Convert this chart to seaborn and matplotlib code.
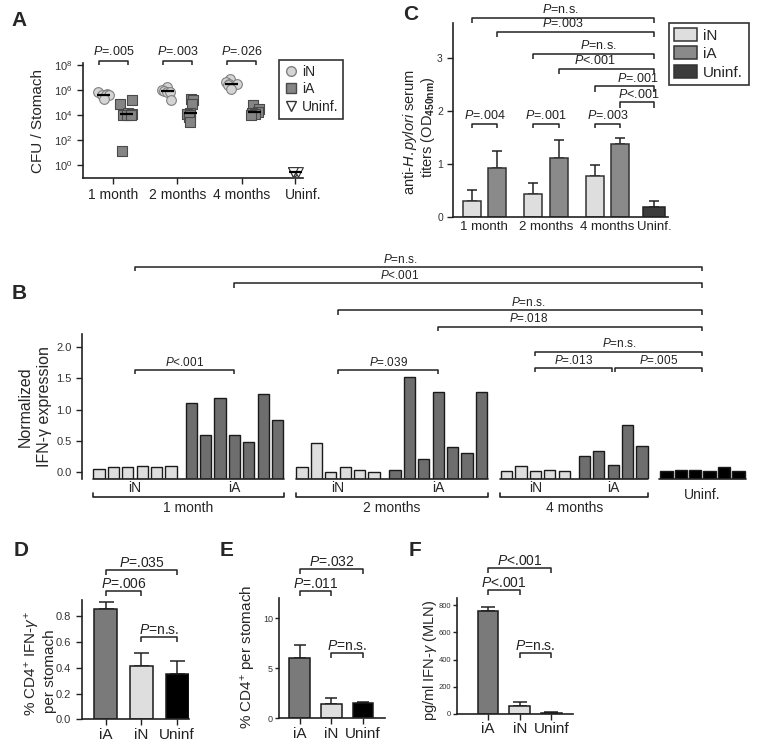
import numpy as np
import pandas as pd
import matplotlib
matplotlib.use("Agg")
import matplotlib.pyplot as plt
import matplotlib.transforms as mtrans
from matplotlib.lines import Line2D
from matplotlib.patches import Patch
import seaborn as sns

# ---- A: CFU per stomach, single mice ----
a_times = ["1 month", "2 months", "4 months", "Uninf."]
a_1m_iN = [7e5, 5.5e5, 4.5e5, 4.5e5, 4e5, 2e5]
a_1m_iA = [1.8e5, 8e4, 1.4e4, 1.2e4, 1.1e4, 1e4, 1e4, 14]
a_2m_iN = [1.8e6, 1e6, 9e5, 8e5, 7e5, 1.6e5]
a_2m_iA = [2.1e5, 1.6e5, 8.5e4, 1.6e4, 1.3e4, 1e4, 7e3, 2.8e3]
a_4m_iN = [7.5e6, 4.5e6, 3.5e6, 3.2e6, 2.8e6, 1.4e6]
a_4m_iA = [7e4, 3e4, 1.8e4, 1.6e4, 1.3e4, 1.1e4]
a_uninf = [0.3, 0.3, 0.3, 0.3]
a_pvals = ["=.005", "=.003", "=.026"]

# ---- B: normalized IFN-g expression, single mice ----
b_1m_iN = [0.06, 0.09, 0.09, 0.10, 0.09, 0.10]
b_1m_iA = [1.10, 0.59, 1.19, 0.60, 0.49, 1.24, 0.84]
b_2m_iN = [0.08, 0.46, 0.01, 0.08, 0.03, 0.01]
b_2m_iA = [0.03, 1.52, 0.22, 1.28, 0.41, 0.30, 1.28]
b_4m_iN = [0.02, 0.10, 0.02, 0.04, 0.02]
b_4m_iA = [0.26, 0.34, 0.12, 0.76, 0.42]
b_uninf = [0.02, 0.03, 0.03, 0.02, 0.08, 0.02]
b_months = ["1 month", "2 months", "4 months"]

# ---- C: serum titers ----
c_times = ["1 month", "2 months", "4 months", "Uninf."]
c_iN_mean = [0.31, 0.44, 0.78]
c_iN_sem = [0.20, 0.21, 0.21]
c_iA_mean = [0.93, 1.11, 1.38]
c_iA_sem = [0.32, 0.35, 0.11]
c_uninf_mean = [0.20]
c_uninf_sem = [0.11]
c_pvals_month = ["=.004", "=.001", "=.003"]

# ---- D, E, F ----
def_groups = ["iA", "iN", "Uninf"]
d_mean = [0.853, 0.415, 0.353]
d_sem = [0.057, 0.101, 0.099]
e_mean = [6.0, 1.4, 1.5]
e_sem = [1.33, 0.67, 0.17]
f_mean = [755, 59, 10]
f_sem = [30, 32, 7]

# ---------------- style ----------------
sns.set_style("ticks")
plt.rcParams["font.family"] = ["Liberation Sans", "DejaVu Sans"]
plt.rcParams["mathtext.fontset"] = "custom"
plt.rcParams["mathtext.rm"] = "Liberation Sans"
plt.rcParams["mathtext.it"] = "Liberation Sans:italic"
plt.rcParams["mathtext.bf"] = "Liberation Sans:bold"
plt.rcParams["axes.linewidth"] = 1.2
plt.rcParams["axes.edgecolor"] = "#222222"
plt.rcParams["xtick.major.width"] = 1.0
plt.rcParams["ytick.major.width"] = 1.0
plt.rcParams["xtick.major.size"] = 4
plt.rcParams["ytick.major.size"] = 4
plt.rcParams["xtick.color"] = "#222222"
plt.rcParams["ytick.color"] = "#222222"

LIGHT = "#dedede"
MID = "#8a8a8a"
DARK_B = "#6e6e6e"
EDGE = "#222222"

W, H = 762, 755
fig = plt.figure(figsize=(W / 100, H / 100), dpi=100)


def add_ax(l, t, r, b):
    return fig.add_axes([l / W, 1 - b / H, (r - l) / W, (b - t) / H])


def ftext(x, y, s, **kw):
    fig.text(x / W, 1 - y / H, s, ha="center", va="center", **kw)


def P(s):
    return r"$\mathit{P}$" + s


def bracket(ax, x1, x2, y, ylo, label, tx=None, fs=9, pad=1.0):
    ax.plot([x1, x1, x2, x2], [ylo, y, y, ylo], color=EDGE, lw=1.1,
            clip_on=False, solid_capstyle="butt")
    ax.annotate(P(label), xy=((x1 + x2) / 2 if tx is None else tx, y),
                xytext=(0, pad), textcoords="offset points", ha="center",
                va="bottom", fontsize=fs, color="#222222", annotation_clip=False)


def style_ticks(ax, size=8):
    ax.tick_params(axis="y", labelsize=size, labelcolor="#333333")
    sns.despine(ax=ax)


def shift_last_xlabel(ax, dx_px):
    lab = ax.get_xticklabels()[-1]
    lab.set_transform(lab.get_transform() +
                      mtrans.ScaledTranslation(dx_px / 100, 0, fig.dpi_scale_trans))


# ================= Panel A =================
axA = add_ax(82.7, 63, 303, 177.7)
a_pos = {"1 month": 0, "2 months": 1, "4 months": 2, "Uninf.": 2.84}
a_off = {"iN": -0.16, "iA": 0.2, "Uninf.": 0.0}
a_sets = [("1 month", "iN", a_1m_iN), ("1 month", "iA", a_1m_iA),
          ("2 months", "iN", a_2m_iN), ("2 months", "iA", a_2m_iA),
          ("4 months", "iN", a_4m_iN), ("4 months", "iA", a_4m_iA),
          ("Uninf.", "Uninf.", a_uninf)]
df_a = pd.DataFrame([{"time": t, "group": g, "cfu": v}
                     for t, g, vals in a_sets for v in vals])
df_a["x"] = df_a["time"].map(a_pos) + df_a["group"].map(a_off)

a_style = {"iN": dict(marker="o", color="#d4d4d4", edgecolor="#808080", size=7),
           "iA": dict(marker="s", color="#858585", edgecolor="#4a4a4a", size=7),
           "Uninf.": dict(marker="v", color="white", edgecolor="#333333", size=7)}
np.random.seed(7)
for g, st in a_style.items():
    sub = df_a[df_a["group"] == g]
    sns.stripplot(data=sub, x="x", y="cfu", native_scale=True, orient="x",
                  jitter=0.1 if g != "Uninf." else 0.12, linewidth=0.8,
                  log_scale=(False, True), ax=axA, zorder=3, **st)
for (t, g), sub in df_a.groupby(["time", "group"]):
    xc = a_pos[t] + a_off[g]
    axA.hlines(np.median(sub["cfu"]), xc - 0.1, xc + 0.1, color="black",
               lw=1.6, zorder=5)
axA.set_ylim(10 ** -1.02, 10 ** 8.2)
axA.set_xlim(-0.48, 2.96)
axA.minorticks_off()
axA.set_yticks([1e0, 1e2, 1e4, 1e6, 1e8])
axA.set_yticklabels([r"$10^{%d}$" % k for k in (0, 2, 4, 6, 8)])
axA.set_xticks([a_pos[t] for t in a_times])
axA.set_xticklabels(a_times, fontsize=10)
shift_last_xlabel(axA, 8)
axA.set_xlabel("")
axA.set_ylabel("")
style_ticks(axA, 8)
for t, p in zip(a_times[:3], a_pvals):
    bracket(axA, a_pos[t] - 0.22, a_pos[t] + 0.23, 10 ** 8.4, 10 ** 8.0, p,
            fs=9, pad=1.5)
ftext(38, 121, "CFU / Stomach", fontsize=11, rotation=90)
a_handles = [Line2D([], [], ls="", marker="o", ms=7, mfc="#d4d4d4", mec="#808080"),
             Line2D([], [], ls="", marker="s", ms=7, mfc="#858585", mec="#4a4a4a"),
             Line2D([], [], ls="", marker="v", ms=7, mfc="white", mec="#333333")]
legA = fig.legend(a_handles, ["iN", "iA", "Uninf."], loc="upper left",
                  bbox_to_anchor=(279 / W, 1 - 60 / H), fontsize=10,
                  frameon=True, fancybox=False, edgecolor="black",
                  handletextpad=0.3, borderpad=0.35, labelspacing=0.25,
                  handlelength=1.0, borderaxespad=0)
legA.get_frame().set_linewidth(1.2)

# ================= Panel C =================
axC = add_ax(453.3, 23, 668, 217.3)
c_month_pos = np.arange(3)
c_uninf_pos = [2.755]
dodge = 0.208
bw = 0.29
cN = c_month_pos - dodge
cA = c_month_pos + dodge
ekw = dict(fmt="none", ecolor=EDGE, elinewidth=1.1, capthick=1.1, capsize=3.6, zorder=1)
axC.bar(cN, c_iN_mean, width=bw, color=LIGHT, edgecolor="#333333", lw=1.1, zorder=2)
axC.bar(cA, c_iA_mean, width=bw, color=MID, edgecolor="#333333", lw=1.1, zorder=2)
axC.bar(c_uninf_pos, c_uninf_mean, width=0.36, color="#3c3c3c", edgecolor="#222222",
        lw=1.1, zorder=2)
axC.errorbar(cN, c_iN_mean, yerr=[np.zeros(3), c_iN_sem], **ekw)
axC.errorbar(cA, c_iA_mean, yerr=[np.zeros(3), c_iA_sem], **ekw)
axC.errorbar(c_uninf_pos, c_uninf_mean, yerr=[[0], c_uninf_sem], **ekw)
axC.set_ylim(0, 3.65)
axC.set_xlim(-0.506, 2.985)
axC.set_yticks([0, 1, 2, 3])
axC.set_xticks(list(c_month_pos) + c_uninf_pos)
axC.set_xticklabels(c_times, fontsize=9.5)
shift_last_xlabel(axC, 7)
axC.tick_params(axis="x", length=0, pad=3)
style_ticks(axC, 7.5)
for i, p in enumerate(c_pvals_month):
    bracket(axC, cN[i], cA[i], 1.76, 1.67, p)
cU = c_uninf_pos[0]
c_upper = [(cN[0], 3.75, "=n.s.", 1.23), (cA[0], 3.49, "=.003", 1.28),
           (cN[1], 3.07, "=n.s.", 1.85), (cA[1], 2.79, "<.001", 1.80),
           (cN[2], 2.46, "=.001", 2.50), (cA[2], 2.16, "<.001", 2.51)]
for x1, y, p, tx in c_upper:
    bracket(axC, x1, cU, y, y - 0.1, p, tx=tx)
ftext(410, 132, r"anti-$\mathit{H. pylori}$ serum", fontsize=10.5, rotation=90)
ftext(428, 127, r"titers (OD$_{\mathbf{450nm}}$)", fontsize=10.5, rotation=90)
legC = fig.legend([Patch(facecolor=c, edgecolor="#333333", lw=1.1)
                   for c in (LIGHT, MID, "#3c3c3c")],
                  ["iN", "iA", "Uninf."], loc="upper left",
                  bbox_to_anchor=(669 / W, 1 - 22.7 / H), fontsize=11,
                  frameon=True, fancybox=False, edgecolor="black",
                  handletextpad=0.4, borderpad=0.35, labelspacing=0.25,
                  handlelength=1.5, handleheight=0.9, borderaxespad=0)
legC.get_frame().set_linewidth(1.2)

# ================= Panel B =================
axB = add_ax(82, 250, 750, 478.6)
B_BASE = -0.1
b_groups = [(b_1m_iN, LIGHT), (b_1m_iA, DARK_B), (b_2m_iN, LIGHT), (b_2m_iA, DARK_B),
            (b_4m_iN, LIGHT), (b_4m_iA, DARK_B), (b_uninf, "black")]
gaps = [1.4, 1.7, 1.45, 1.75, 1.4, 1.7]
b_xs = []
start = 0.0
for k, (vals, col) in enumerate(b_groups):
    xs = start + np.arange(len(vals))
    b_xs.append(xs)
    width = 0.86 if col == "black" else 0.78
    axB.bar(xs, np.array(vals) - B_BASE, bottom=B_BASE, width=width, color=col,
            edgecolor="#1a1a1a", lw=1.0, zorder=2)
    if k < len(gaps):
        start = xs[-1] + gaps[k]
centers = [xs.mean() for xs in b_xs]
axB.set_ylim(B_BASE, 3.54)
axB.set_xlim(-1.18, 45.2)
axB.set_yticks([0, 0.5, 1.0, 1.5, 2.0])
axB.spines["left"].set_bounds(B_BASE, 2.2)
axB.set_xticks([])
style_ticks(axB, 8)
axB.spines["bottom"].set_visible(False)
# baselines and labels under each month
for m in range(3):
    lo = b_xs[2 * m][0] - 0.45
    hi = b_xs[2 * m + 1][-1] + 0.45
    axB.plot([lo, hi], [B_BASE, B_BASE], color=EDGE, lw=1.2, clip_on=False)
    axB.plot([lo, lo, hi, hi], [-0.33, -0.39, -0.39, -0.33], color=EDGE, lw=1.2,
             clip_on=False)
    axB.text(centers[2 * m], -0.25, "iN", ha="center", va="center", fontsize=10,
             clip_on=False)
    axB.text(centers[2 * m + 1], -0.25, "iA", ha="center", va="center", fontsize=10,
             clip_on=False)
    axB.text((lo + hi) / 2, -0.57, b_months[m], ha="center", va="center",
             fontsize=10, clip_on=False)
lo, hi = b_xs[6][0] - 0.5, b_xs[6][-1] + 0.5
axB.plot([lo, hi], [B_BASE, B_BASE], color=EDGE, lw=1.2, clip_on=False)
axB.text(centers[6], -0.36, "Uninf.", ha="center", va="center", fontsize=10,
         clip_on=False)
c1N, c1A, c2N, c2A, c4N, c4A, cUb = centers
bfs = 8.5
bracket(axB, c1N, c1A, 1.63, 1.56, "<.001", fs=bfs)
bracket(axB, c2N, c2A, 1.63, 1.56, "=.039", fs=bfs)
bracket(axB, c4N, c4A - 0.1, 1.66, 1.59, "=.013", fs=bfs)
bracket(axB, c4A + 0.1, cUb, 1.66, 1.59, "=.005", fs=bfs)
bracket(axB, c4N, cUb, 1.92, 1.85, "=n.s.", fs=bfs)
bracket(axB, c1N, cUb, 3.27, 3.20, "=n.s.", tx=20.9, fs=bfs)
bracket(axB, c1A, cUb, 3.01, 2.94, "<.001", tx=20.9, fs=bfs)
bracket(axB, c2N, cUb, 2.58, 2.51, "=n.s.", tx=29.8, fs=bfs)
bracket(axB, c2A, cUb, 2.32, 2.25, "=.018", tx=29.8, fs=bfs)
ftext(25, 407, "Normalized", fontsize=11.5, rotation=90)
ftext(45, 407, "IFN-γ expression", fontsize=11.5, rotation=90)


# ================= Panels D, E, F =================
def small_bar(ax, means, sems, ylim, yticks, capsize, tsize):
    sns.barplot(x=def_groups, y=means, hue=def_groups, legend=False,
                palette=["#7a7a7a", LIGHT, "black"], width=0.65,
                edgecolor="#1a1a1a", linewidth=1.1, errorbar=None, ax=ax, zorder=2)
    ax.errorbar(np.arange(3), means, yerr=[np.zeros(3), sems], fmt="none",
                ecolor=EDGE, elinewidth=1.1, capthick=1.1, capsize=capsize, zorder=1)
    ax.set_ylim(*ylim)
    ax.set_yticks(yticks)
    ax.tick_params(axis="x", labelsize=11, pad=2)
    style_ticks(ax, tsize)


axD = add_ax(81.7, 600, 189, 719.3)
small_bar(axD, d_mean, d_sem, (0, 0.925), [0, 0.2, 0.4, 0.6, 0.8], 5.4, 8)
axD.set_xlim(-0.67, 2.33)
axD.set_yticklabels(["0.0", "0.2", "0.4", "0.6", "0.8"])
bracket(axD, 0, 2, 1.157, 1.117, "=.035", fs=10, pad=0)
bracket(axD, 0, 1, 0.995, 0.955, "=.006", fs=10, pad=0)
bracket(axD, 1, 2, 0.64, 0.60, "=n.s.", fs=10, pad=0)
ftext(32, 664, r"% CD4$^{+}$ IFN-$\gamma^{+}$", fontsize=11, rotation=90)
ftext(50, 671, "per stomach", fontsize=11, rotation=90)

axE = add_ax(279.3, 598.3, 385, 718.3)
small_bar(axE, e_mean, e_sem, (0, 12), [0, 5, 10], 4.2, 6.5)
axE.tick_params(axis="y", length=3, pad=1.5)
axE.set_xlim(-0.645, 2.69)
bracket(axE, 0, 2, 14.9, 14.4, "=.032", fs=10, pad=0)
bracket(axE, 0, 1, 12.73, 12.23, "=.011", fs=10, pad=0)
bracket(axE, 1, 2, 6.56, 6.06, "=n.s.", fs=10, pad=0)
ftext(249, 657, r"% CD4$^{+}$ per stomach", fontsize=11, rotation=90)

axF = add_ax(456.7, 598, 573.3, 714)
small_bar(axF, f_mean, f_sem, (0, 852), [0, 200, 400, 600, 800], 4.7, 5.5)
axF.tick_params(axis="y", length=3, pad=1)
axF.set_xlim(-0.986, 2.69)
bracket(axF, 0, 2, 1069, 1032, "<.001", fs=10, pad=0)
bracket(axF, 0, 1, 908, 871, "<.001", fs=10, pad=0)
bracket(axF, 1, 2, 448, 411, "=n.s.", fs=10, pad=0)
ftext(430, 660, r"pg/ml IFN-$\gamma$ (MLN)", fontsize=10.5, rotation=90)

# panel letters
for letter, (x, y) in {"A": (19, 21), "B": (19, 294), "C": (411, 14),
                       "D": (21, 551), "E": (227, 550), "F": (415, 550)}.items():
    ftext(x, y, letter, fontsize=15, fontweight="bold")

fig.savefig("out.png", dpi=100)
